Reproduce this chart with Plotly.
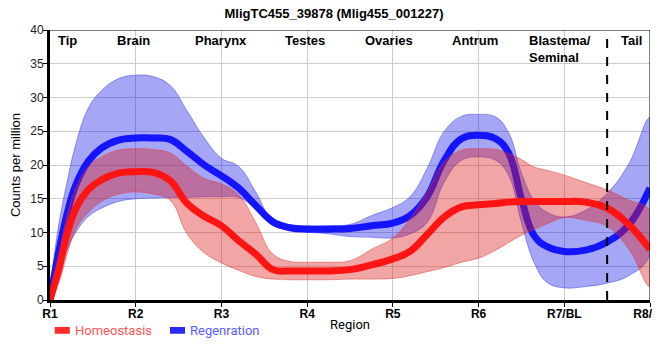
import plotly.graph_objects as go

# positions along the body (R1..R8 -> 1..8)
xs = [1.0, 1.1, 1.2, 1.3, 1.45, 1.6, 1.8, 2.0, 2.2, 2.4, 2.6, 2.8, 3.0, 3.2, 3.4, 3.6,
      3.8, 4.0, 4.25, 4.5, 4.75, 5.0, 5.2, 5.4, 5.6, 5.8, 6.0, 6.2, 6.35, 6.5, 6.65,
      6.8, 7.0, 7.25, 7.5, 7.75, 8.0]

regen_mean = [0.0, 7.0, 12.8, 17.0, 20.6, 22.5, 23.7, 24.0, 24.0, 23.8, 22.0, 20.0, 18.4,
              16.6, 14.0, 11.6, 10.7, 10.5, 10.5, 10.6, 11.0, 11.4, 12.5, 15.3, 20.7, 23.9,
              24.4, 23.9, 21.8, 15.0, 9.5, 7.9, 7.2, 7.4, 8.6, 11.1, 16.6]
regen_upper = [1.5, 11.0, 17.5, 23.0, 28.5, 31.0, 32.8, 33.3, 33.1, 31.8, 28.0, 24.0, 21.0,
               19.8, 16.0, 11.8, 11.1, 11.0, 11.0, 11.2, 12.5, 13.7, 15.3, 19.5, 25.0, 27.2,
               27.5, 27.1, 24.8, 18.8, 14.7, 13.0, 12.3, 13.3, 15.8, 20.1, 27.0]
regen_lower = [0.0, 4.2, 7.5, 10.0, 12.4, 13.6, 14.6, 15.0, 15.1, 15.2, 15.2, 15.3, 15.3,
               15.2, 13.5, 11.0, 10.4, 10.1, 9.8, 9.4, 9.3, 9.2, 9.8, 11.5, 17.5, 20.7,
               21.2, 20.7, 18.5, 11.5, 5.5, 2.6, 1.8, 2.0, 2.5, 3.6, 6.7]

homeo_mean = [0.0, 4.5, 9.8, 13.5, 16.4, 17.8, 18.8, 19.0, 18.9, 17.7, 14.3, 12.4, 11.0,
              8.8, 6.8, 4.5, 4.3, 4.3, 4.3, 4.5, 5.2, 6.1, 7.2, 9.7, 12.3, 13.8,
              14.1, 14.3, 14.5, 14.6, 14.6, 14.6, 14.6, 14.5, 13.6, 11.2, 7.5]
homeo_upper = [1.0, 6.5, 12.5, 16.5, 19.8, 21.2, 22.2, 22.4, 22.3, 21.8, 19.8, 18.0, 17.2,
               15.6, 11.5, 6.8, 5.7, 5.6, 5.6, 5.8, 7.5, 9.2, 12.0, 16.0, 20.5, 22.2,
               22.4, 22.3, 21.7, 20.8, 19.7, 19.2, 18.5, 17.4, 16.3, 14.8, 13.2]
homeo_lower = [0.0, 2.5, 6.8, 10.5, 13.0, 14.6, 15.7, 16.0, 15.7, 14.8, 9.8, 7.0, 5.5,
               4.4, 3.5, 3.1, 3.0, 3.0, 3.0, 3.1, 3.1, 3.2, 3.6, 4.2, 4.8, 5.6,
               6.2, 7.4, 8.5, 9.6, 10.5, 11.3, 12.2, 11.8, 10.9, 7.6, 2.0]

tick_vals = [1, 2, 3, 4, 5, 6, 7, 8]
tick_text = ["R1", "R2", "R3", "R4", "R5", "R6", "R7/BL", "R8/TL"]
region_names = ["Tip", "Brain", "Pharynx", "Testes", "Ovaries", "Antrum", "Blastema/<br>Seminal", "Tail"]
region_pos = [1.2, 1.97, 3.0, 3.97, 4.95, 5.96, 6.57, 7.78]
divider_x = 7.5
series_names = ["Homeostasis", "Regenration"]

SM = 1.2
fig = go.Figure()

def band(upper, lower, fill, edge):
    return go.Scatter(x=xs + xs[::-1], y=upper + lower[::-1], fill="toself",
                      fillcolor=fill, line=dict(color=edge, width=1, shape="spline", smoothing=SM),
                      mode="lines", showlegend=False, hoverinfo="skip")

fig.add_trace(band(regen_upper, regen_lower, "rgba(0,0,230,0.35)", "rgba(60,60,230,0.5)"))
fig.add_trace(go.Scatter(x=xs, y=regen_mean, mode="lines", showlegend=False,
                         line=dict(color="rgba(20,20,255,1)", width=7, shape="spline", smoothing=SM),
                         name=series_names[1]))
fig.add_trace(band(homeo_upper, homeo_lower, "rgba(220,30,30,0.4)", "rgba(220,60,60,0.5)"))
fig.add_trace(go.Scatter(x=xs, y=homeo_mean, mode="lines", showlegend=False,
                         line=dict(color="rgba(255,20,20,1)", width=7, shape="spline", smoothing=SM),
                         name=series_names[0]))

fig.add_shape(type="line", x0=divider_x, x1=divider_x, y0=0, y1=40, xref="x", yref="y",
              line=dict(color="black", width=2, dash="dash"))
# top and right border
fig.add_shape(type="line", x0=1, x1=8, y0=40, y1=40, xref="x", yref="y", line=dict(color="black", width=1))
fig.add_shape(type="line", x0=8, x1=8, y0=0, y1=40, xref="x", yref="y", line=dict(color="black", width=1))

for name, pos in zip(region_names, region_pos):
    fig.add_annotation(x=pos, y=40, xref="x", yref="y", text="<b>" + name + "</b>",
                       showarrow=False, yanchor="top", xanchor="center" if "<br>" not in name else "left",
                       align="left", yshift=-1,
                       font=dict(family="Liberation Sans, Arial", size=13, color="black"))

# manual legend
leg = [(series_names[0], "#ff2a2a", "#ff5555", 0.008), (series_names[1], "#2a2aff", "#5a5aff", 0.2)]
for name, sym, txt, x0 in leg:
    fig.add_shape(type="rect", xref="paper", yref="paper", x0=x0, x1=x0 + 0.025,
                  y0=-0.125, y1=-0.1, fillcolor=sym, line=dict(width=0))
    fig.add_annotation(xref="paper", yref="paper", x=x0 + 0.03, y=-0.112, text=name,
                       showarrow=False, xanchor="left", yanchor="middle",
                       font=dict(family="Roboto, Liberation Sans", size=13, color=txt))

fig.update_layout(
    width=652, height=352,
    margin=dict(l=42, r=10, t=22, b=60),
    paper_bgcolor="white", plot_bgcolor="white",
    title=dict(text="<b>MligTC455_39878 (Mlig455_001227)</b>", x=0.5, xanchor="center",
               y=0.998, yanchor="top", pad=dict(t=0, b=0),
               font=dict(family="Liberation Sans, Arial", size=13, color="black")),
    font=dict(family="Liberation Sans, Arial", size=12, color="black"),
    showlegend=False,
)
fig.update_xaxes(range=[1, 8], tickvals=tick_vals, ticktext=["<b>" + t + "</b>" for t in tick_text],
                 showgrid=True, gridcolor="#cccccc", gridwidth=1, automargin=False,
                 ticklabeloverflow="allow", ticklabelstandoff=-3,
                 showline=True, linecolor="black", linewidth=3, ticks="outside", ticklen=4,
                 tickcolor="black", zeroline=False,
                 title=dict(text="Region", font=dict(family="Roboto, Liberation Sans", size=13), standoff=0),
                 tickfont=dict(family="Liberation Sans, Arial", size=12))
fig.update_yaxes(range=[0, 40], dtick=5, showgrid=True, gridcolor="#cccccc", gridwidth=1,
                 automargin=False, ticklabelstandoff=-3,
                 showline=True, linecolor="black", linewidth=3, ticks="outside", ticklen=4,
                 tickcolor="black", zeroline=False,
                 title=dict(text="Counts per million", font=dict(family="Liberation Sans, Arial", size=13), standoff=8),
                 tickfont=dict(family="Liberation Sans, Arial", size=12, color="#222"))

fig.write_html("out.html")
